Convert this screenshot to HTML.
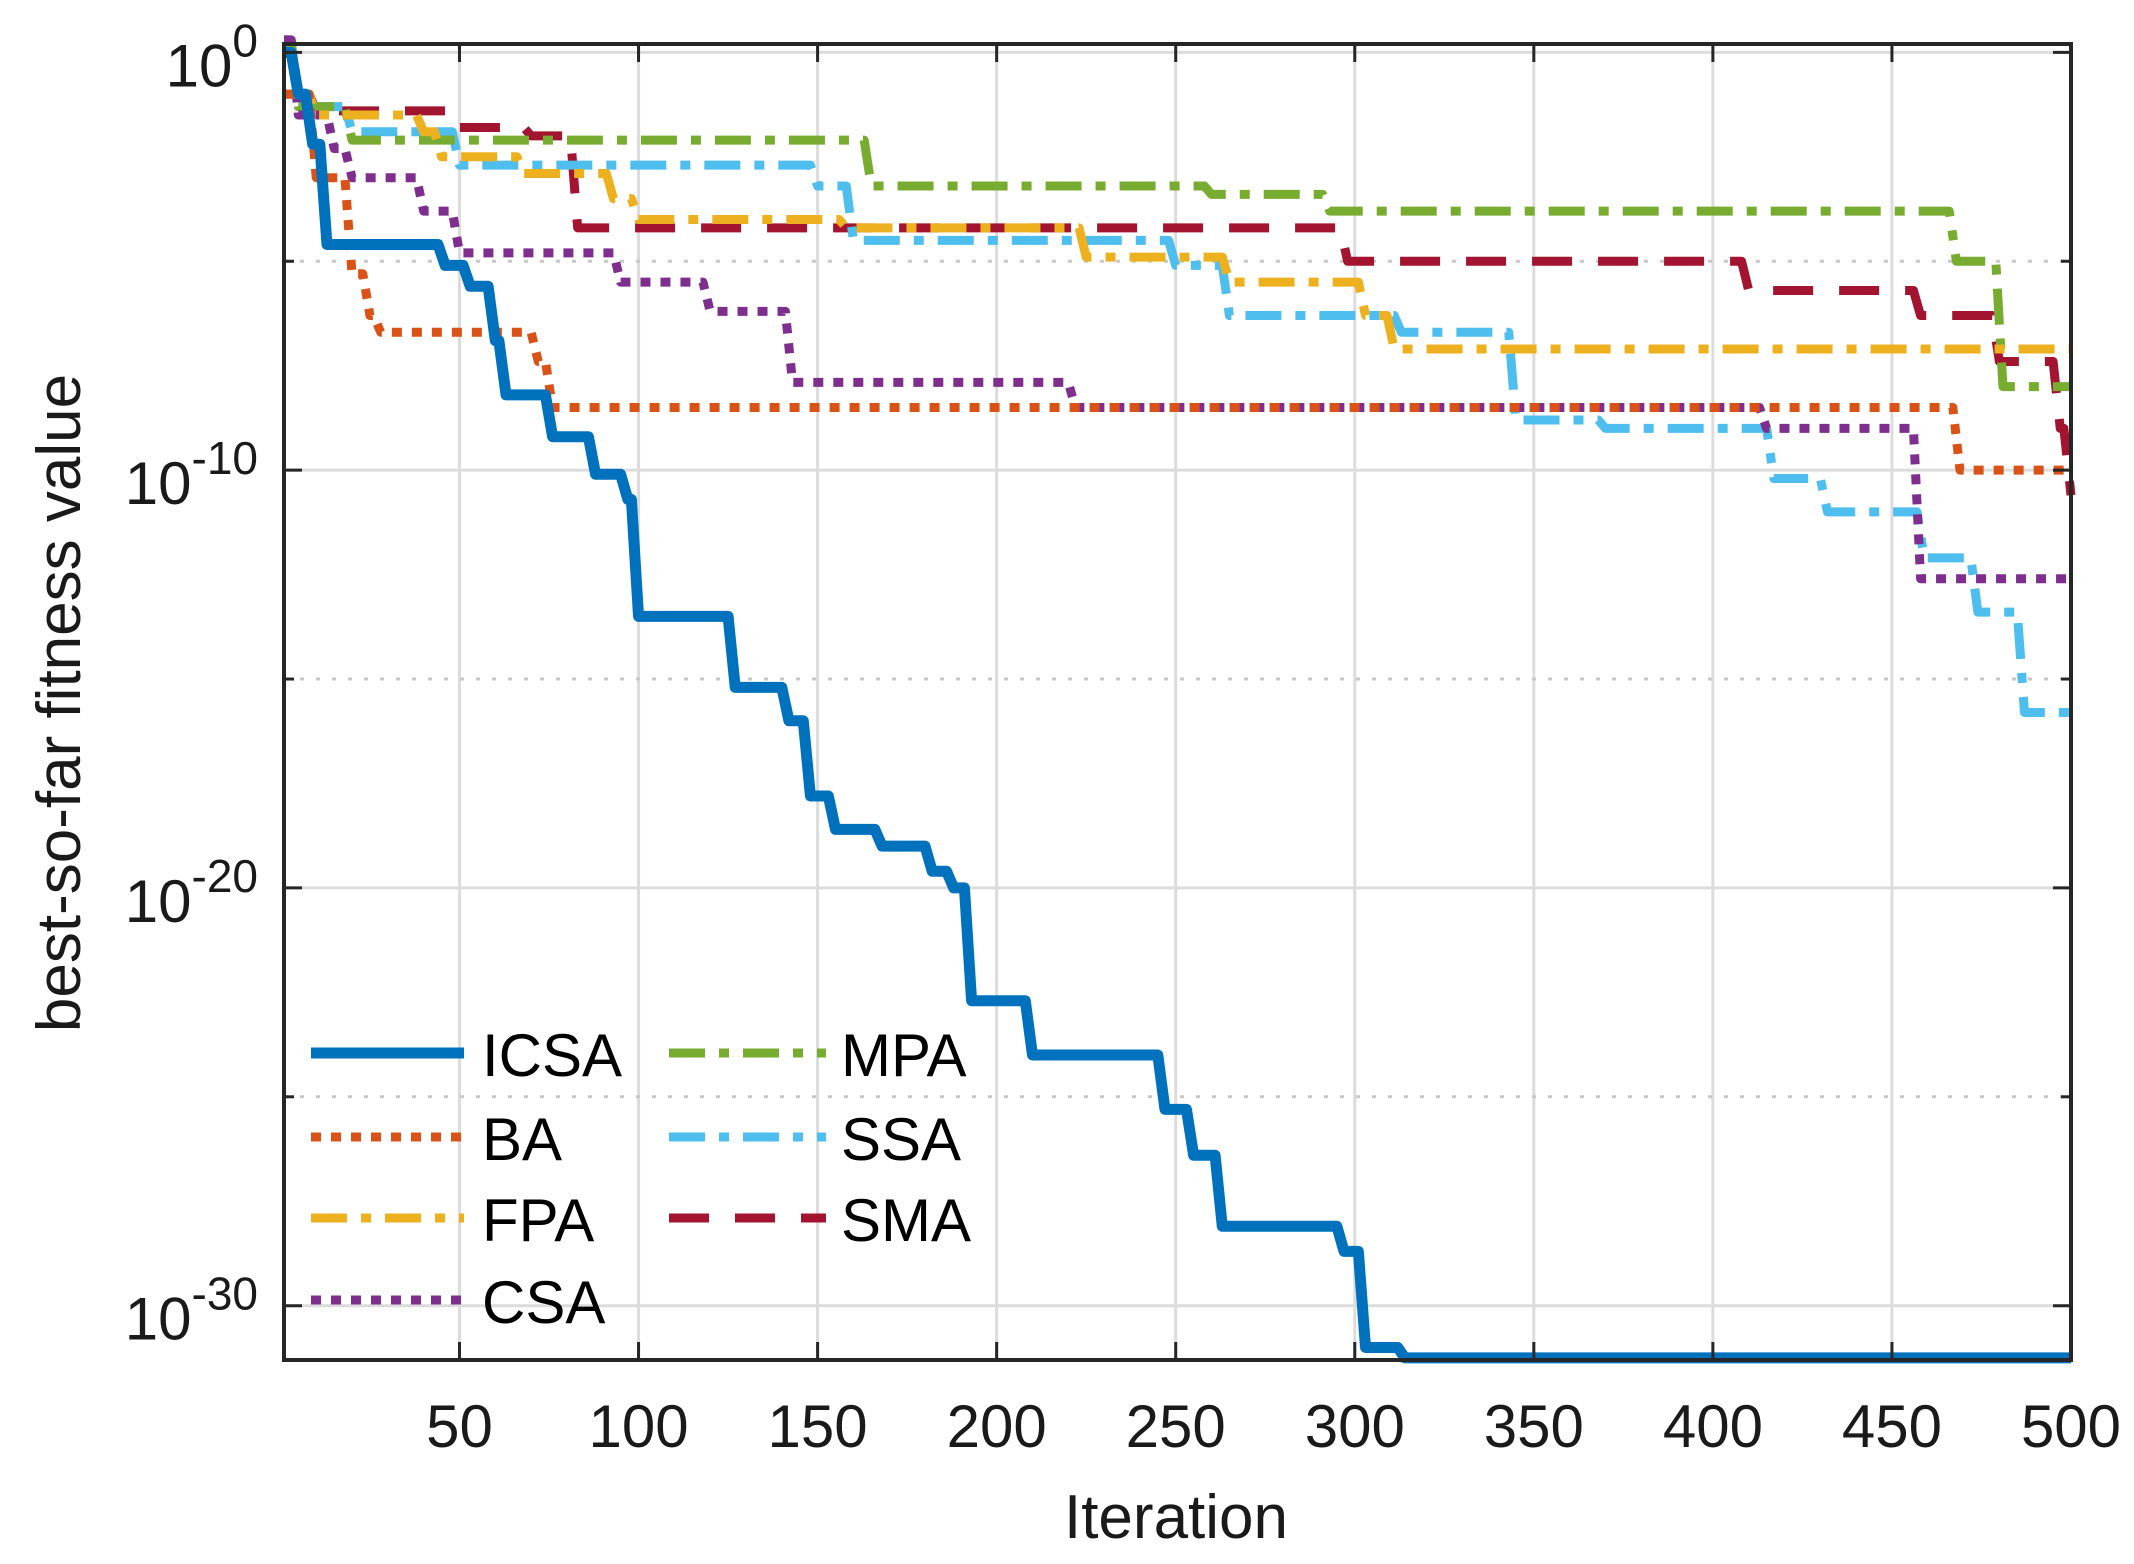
<!DOCTYPE html>
<html><head><meta charset="utf-8"><style>
html,body{margin:0;padding:0;background:#fff;}
svg{display:block;font-family:"Liberation Sans",Arial,sans-serif;}
</style></head><body>
<svg id="chart" width="2134" height="1564" viewBox="0 0 2134 1564" xmlns="http://www.w3.org/2000/svg">
<rect width="2134" height="1564" fill="#fff"/>
<g id="grid"></g>
<g id="series"></g>
<g id="axes"></g>
<g id="legend"></g>
</svg>
<script>
const xTicks=[50,100,150,200,250,300,350,400,450,500];
const yMajor=[0,-10,-20,-30];
const yMinor=[-5,-15,-25];
const seriesNames=["ICSA","BA","FPA","CSA","MPA","SSA","SMA"];
const icsaIter=[1,5,9,13,42,46,53,60,63,72,76,88,97,100,124,127,138,142,148,155,168,182,188,193,206,210,243,247,255,263,281,297,303,314,500];
const icsaVal=[0,-1.0,-2.2,-4.6,-4.6,-5.1,-5.6,-6.9,-8.2,-8.2,-9.2,-10.1,-10.7,-13.5,-13.5,-15.2,-15.2,-16.0,-17.8,-18.6,-19.0,-19.6,-20.0,-22.7,-22.7,-24.0,-24.0,-25.3,-26.4,-28.1,-28.1,-28.7,-31.0,-31.25,-31.25];
const baIter=[1,10,20,25,28,66,72,76,466,469,500];
const baVal=[-1.0,-3.0,-5.3,-6.3,-6.7,-6.7,-7.4,-8.5,-8.5,-10.0,-10.0];
const fpaIter=[1,10,40,45,68,93,100,158,225,265,303,311,500];
const fpaVal=[-1.0,-1.5,-1.9,-2.5,-2.9,-3.5,-4.0,-4.2,-4.9,-5.5,-6.3,-7.1,-7.1];
const csaIter=[1,5,15,20,40,50,95,120,143,222,415,458,500];
const csaVal=[0.3,-1.5,-2.3,-3.0,-3.8,-4.8,-5.5,-6.2,-7.9,-8.5,-9.0,-12.6,-12.6];
const mpaIter=[1,5,20,165,260,293,468,481,500];
const mpaVal=[0.3,-1.3,-2.1,-3.2,-3.4,-3.8,-5.0,-8.0,-8.0];
const ssaIter=[1,5,20,50,150,160,250,265,313,345,370,417,432,459,474,487,500];
const ssaVal=[0.1,-1.3,-1.9,-2.7,-3.2,-4.5,-5.1,-6.3,-6.7,-8.8,-9.0,-10.2,-11.0,-12.1,-13.4,-15.8,-15.8];
const smaIter=[1,10,50,70,83,298,410,458,480,497,500];
const smaVal=[-1.0,-1.4,-1.8,-2.0,-4.2,-5.0,-5.7,-6.3,-7.4,-9.0,-10.6];

const L=284,R=2071,T=44,B=1360;
const xMin=1,xMax=500,yTop=0.2,yBot=-31.3;
const X=v=>L+(v-xMin)/(xMax-xMin)*(R-L);
const Y=v=>T+(yTop-v)/(yTop-yBot)*(B-T);
const NS="http://www.w3.org/2000/svg";
function mk(tag,attrs,parent){const e=document.createElementNS(NS,tag);for(const k in attrs)e.setAttribute(k,attrs[k]);parent.appendChild(e);return e;}
const grid=document.getElementById('grid'),axes=document.getElementById('axes'),ser=document.getElementById('series'),leg=document.getElementById('legend');

xTicks.forEach(t=>{
 const l=mk('line',{x1:X(t),x2:X(t),y1:T,y2:B,stroke:'#dcdcdc','stroke-width':3},grid);
 
 
 mk('line',{x1:X(t),x2:X(t),y1:B,y2:B-18,stroke:'#262626','stroke-width':3},axes);
 mk('line',{x1:X(t),x2:X(t),y1:T,y2:T+18,stroke:'#262626','stroke-width':3},axes);
 const tx=mk('text',{x:X(t),y:1447,'text-anchor':'middle','font-size':60,fill:'#1a1a1a'},axes);
 tx.textContent=t;
 
 
});
yMajor.forEach(t=>{
 const l=mk('line',{x1:L,x2:R,y1:Y(t),y2:Y(t),stroke:'#dcdcdc','stroke-width':3},grid);
 
 
 mk('line',{x1:L,x2:L+18,y1:Y(t),y2:Y(t),stroke:'#262626','stroke-width':3},axes);
 mk('line',{x1:R,x2:R-18,y1:Y(t),y2:Y(t),stroke:'#262626','stroke-width':3},axes);
 const tx=mk('text',{x:258,y:Y(t)+34,'text-anchor':'end','font-size':60,fill:'#1a1a1a'},axes);
 
 
 const a=document.createElementNS(NS,'tspan');a.textContent='10';tx.appendChild(a);
 const b=document.createElementNS(NS,'tspan');b.setAttribute('dy','-30');b.setAttribute('font-size','46');b.textContent=String(t);tx.appendChild(b);
});
yMinor.forEach(t=>{
 const l=mk('line',{x1:L,x2:R,y1:Y(t),y2:Y(t),stroke:'#c8c8c8','stroke-width':3,'stroke-dasharray':'4 12'},grid);
 
 
 mk('line',{x1:L,x2:L+10,y1:Y(t),y2:Y(t),stroke:'#262626','stroke-width':3},axes);
 mk('line',{x1:R,x2:R-10,y1:Y(t),y2:Y(t),stroke:'#262626','stroke-width':3},axes);
});
const box=mk('rect',{x:L,y:T,width:R-L,height:B-T,fill:'none',stroke:'#262626','stroke-width':4},axes);


const xl=mk('text',{x:1176,y:1538,'text-anchor':'middle','font-size':62,fill:'#1a1a1a'},axes);
xl.textContent='Iteration';


const yl=mk('text',{x:0,y:0,'text-anchor':'middle','font-size':62,fill:'#1a1a1a',transform:'translate(80,703) rotate(-90)'},axes);
yl.textContent='best-so-far fitness value';



const styles={
 ICSA:{c:'#0072bd',w:11,d:''},
 BA:{c:'#d95319',w:9,d:'10 10'},
 FPA:{c:'#edb120',w:9,d:'36 14 10 14'},
 CSA:{c:'#7e2f8e',w:9,d:'10 10'},
 MPA:{c:'#77ac30',w:9,d:'36 14 10 14'},
 SSA:{c:'#4dbeee',w:9,d:'36 14 10 14'},
 SMA:{c:'#a2142f',w:9,d:'40 26'}
};
const data={ICSA:[icsaIter,icsaVal],BA:[baIter,baVal],FPA:[fpaIter,fpaVal],CSA:[csaIter,csaVal],MPA:[mpaIter,mpaVal],SSA:[ssaIter,ssaVal],SMA:[smaIter,smaVal]};
const drawOrder=["SMA","SSA","MPA","CSA","FPA","BA","ICSA"];
drawOrder.forEach(n=>{
 const [it,v]=data[n];let pts=[];
 for(let i=0;i<it.length;i++){
  pts.push(X(it[i])+','+Y(v[i]));
  if(i<it.length-1){const hold=Math.max(it[i],it[i+1]-2);pts.push(X(hold)+','+Y(v[i]));}
 }
 const s=styles[n];
 const p=mk('polyline',{points:pts.join(' '),fill:'none',stroke:s.c,'stroke-width':s.w,'stroke-linejoin':'round'},ser);
 if(s.d)p.setAttribute('stroke-dasharray',s.d);
 
 
});
const legRows=[1053,1137,1218,1300];
seriesNames.forEach((n,i)=>{
 const col=i<4?0:1,row=i<4?i:i-4;
 const x0=col?669:311,x1=col?826:464,tx=col?841:482;
 const y=legRows[row];const s=styles[n];
 const g=mk('g',{},leg);
 
 
 const l=mk('line',{x1:x0,x2:x1,y1:y,y2:y,stroke:s.c,'stroke-width':s.w},g);
 if(s.d)l.setAttribute('stroke-dasharray',s.d);
 const t=mk('text',{x:tx,y:y+23,'font-size':60,fill:'#000'},g);
 t.textContent=n;
});
</script>
</body></html>
